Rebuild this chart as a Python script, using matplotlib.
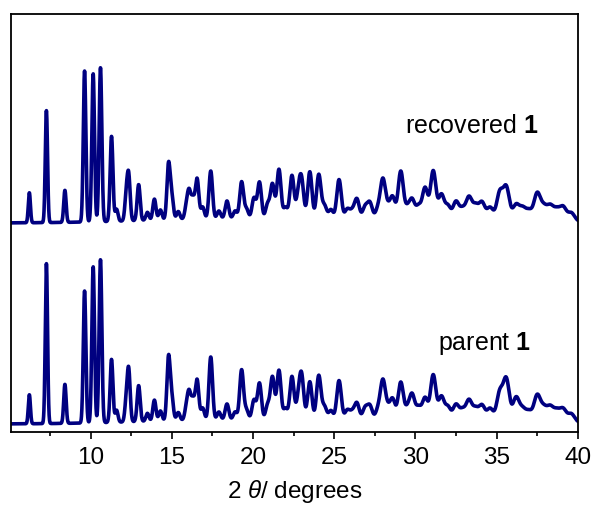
import numpy as np
import matplotlib.pyplot as plt

plt.rcParams['font.family'] = ['Liberation Sans', 'DejaVu Sans']
plt.rcParams['mathtext.fontset'] = 'custom'
plt.rcParams['mathtext.rm'] = 'Liberation Sans'
plt.rcParams['mathtext.it'] = 'Liberation Sans:italic'
plt.rcParams['mathtext.bf'] = 'Liberation Sans:bold'

# peak positions (2theta, degrees)
pos = [6.23, 7.28, 8.42, 9.63, 10.16, 10.61, 11.29, 11.6, 12.2, 12.35, 12.96,
       13.5, 13.93, 14.3, 14.8, 15.0, 15.4, 15.9, 16.07, 16.3, 16.56, 16.9,
       17.4, 17.9, 18.4, 18.9, 19.3, 19.6, 20.06, 20.4, 20.9, 21.2, 21.6,
       22.0, 22.4, 22.8, 23.0, 23.5, 24.05, 24.4, 24.8, 25.3, 25.8, 26.1,
       26.4, 26.9, 27.2, 27.7, 28.0, 28.3, 28.6, 29.1, 29.5, 29.8, 30.2,
       30.6, 31.1, 31.6, 32.0, 32.5, 32.9, 33.3, 33.7, 34.1, 34.6, 35.2,
       35.6, 36.2, 36.6, 37.0, 37.5, 37.9, 38.3, 38.7, 39.1, 39.6]

# intensities of the recovered sample
recovered = [30, 112, 32, 151, 148, 154, 85, 12, 25, 43, 36,
             8, 21, 10, 55, 22, 8, 12, 26, 20, 40, 12,
             48, 8, 18, 8, 37, 10, 21, 37, 15, 35, 50,
             12, 44, 24, 36, 48, 45, 14, 10, 40, 10, 8,
             20, 12, 16, 10, 38, 10, 21, 47, 10, 18, 12,
             30, 47, 23, 12, 16, 9, 20, 12, 15, 10, 25,
             30, 13, 10, 8, 25, 12, 13, 10, 13, 8]

# intensities of the parent sample
parent = [29, 160, 39, 132, 156, 163, 63, 12, 20, 50, 36,
          8, 21, 10, 63, 22, 8, 12, 26, 20, 40, 12,
          63, 8, 16, 8, 50, 10, 20, 37, 15, 43, 50,
          12, 44, 20, 42, 39, 45, 14, 10, 40, 10, 8,
          17, 12, 14, 10, 38, 10, 20, 37, 10, 24, 12,
          21, 44, 22, 12, 14, 9, 18, 10, 13, 10, 26,
          39, 21, 10, 8, 24, 12, 13, 10, 12, 8]

# broad background humps (centre, height, width)
bg_pos = [18.0, 30.0, 36.0]
bg_height = [4, 4, 4]
bg_width = [5.0, 4.0, 3.0]

offset = 201
x_ticks = [10, 15, 20, 25, 30, 35, 40]


def pattern(tt, heights):
    y = np.zeros_like(tt)
    for p, h in zip(pos, heights):
        w = 0.06 + 0.004 * (p - 5)
        y += h * np.exp(-0.5 * ((tt - p) / w) ** 2)
    for p, h, w in zip(bg_pos, bg_height, bg_width):
        y += h * np.exp(-0.5 * ((tt - p) / w) ** 2)
    return y


tt = np.linspace(5.1, 40, 4000)
y_par = pattern(tt, parent)
y_rec = pattern(tt, recovered) + offset

fig = plt.figure(figsize=(5.95, 5.11), dpi=100)
ax = fig.add_axes([0.0185, 0.1546, 0.9525, 0.818])
ax.plot(tt, y_rec, color='#000080', lw=2.6)
ax.plot(tt, y_par, color='#000080', lw=2.6)

ax.set_xlim(5.1, 40)
ax.set_ylim(-8, 410)
ax.set_xticks(x_ticks)
ax.set_xticks(np.arange(7.5, 40, 5), minor=True)
ax.set_yticks([])
ax.tick_params(axis='x', which='major', direction='out', length=5, width=1.2,
               labelsize=17.5, pad=6, top=False)
ax.tick_params(axis='x', which='minor', direction='out', length=3, width=1.2, top=False)
for s in ax.spines.values():
    s.set_linewidth(1.3)

ax.set_xlabel(r'2 $\theta$/ degrees', fontsize=17.5, labelpad=6)
ax.text(37.6, 291, r'recovered $\mathbf{1}$', fontsize=18, ha='right', va='baseline')
ax.text(37.1, 74, r'parent $\mathbf{1}$', fontsize=18, ha='right', va='baseline')

fig.savefig('out.png', dpi=100)
